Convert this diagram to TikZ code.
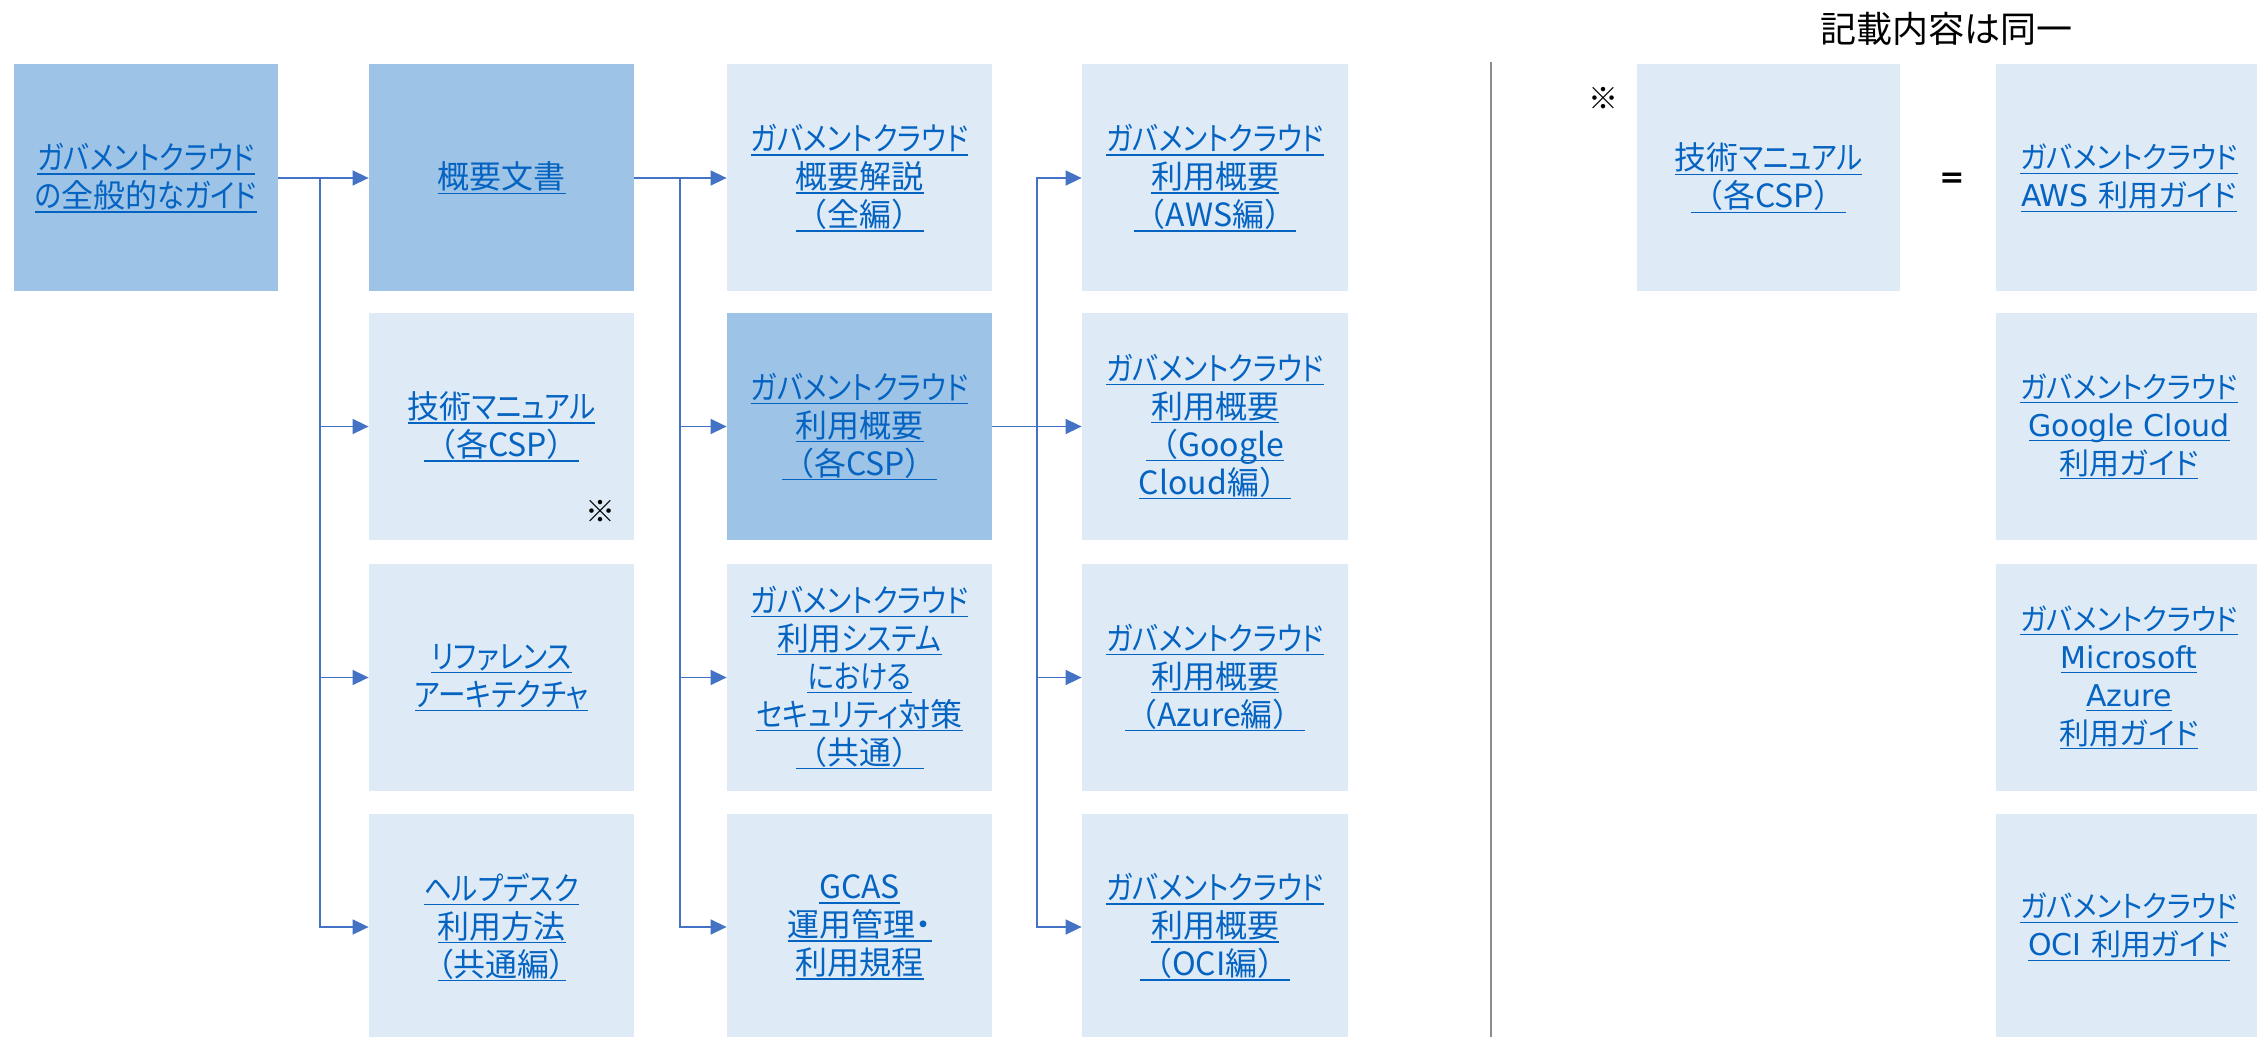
\documentclass[tikz,border=0pt]{standalone}
\usepackage{fontspec}
\usetikzlibrary{arrows.meta}
\newfontfamily\jp[RawFeature=+palt]{Noto Sans CJK JP}
\newfontfamily\jpk[RawFeature=+palt,FakeStretch=0.86]{Noto Sans CJK JP}
\newfontfamily\jpr[RawFeature=+palt,FakeStretch=0.92]{Noto Sans CJK JP}
\newfontfamily\jpw{Noto Sans CJK JP}
\newfontfamily\dv{DejaVu Sans}
\definecolor{darkfill}{HTML}{9DC3E6}
\definecolor{lightfill}{HTML}{DEEBF7}
\definecolor{linkblue}{HTML}{0563C1}
\definecolor{arrowblue}{HTML}{4472C4}
\definecolor{sepgray}{HTML}{8C8C8C}
\newcommand\ul[1]{\begingroup\setbox0=\hbox{#1}\rlap{\rule[-2.6pt]{\wd0}{0.7pt}}\box0\endgroup}
\newcommand\kana[1]{{\jpk #1}}
\newcommand\GC{\kana{ガバメントクラウド}}
\newcommand\GCr{{\jpr ガバメントクラウド}}
\newcommand\LPar{{\jpw （}}
\newcommand\RPar{{\jpw ）}}
\tikzset{
  box/.style={inner sep=0pt, minimum width=132.5pt, minimum height=113.5pt,
    align=center, text=linkblue, font=\jp\fontsize{16pt}{19pt}\selectfont},
  darkbox/.style={box, fill=darkfill},
  lightbox/.style={box, fill=lightfill},
  widebox/.style={lightbox, minimum width=133pt, font=\jp\fontsize{15pt}{19pt}\selectfont},
  link/.style={draw=arrowblue, line width=0.75pt, -{Triangle[length=8pt,width=7.5pt]}},
  plain/.style={inner sep=0pt, text=black, font=\jpw\fontsize{15pt}{18pt}\selectfont},
}
\begin{document}
\begin{tikzpicture}[x=0.5pt,y=-0.5pt]
\useasboundingbox (0,0) rectangle (2257,1037);
\clip (0,0) rectangle (2257,1037);
% column 1
\node[darkbox, minimum width=132pt] (b1) at (146,178) {\ul{\GC}\\\ul{\kana{の}全般的\kana{なガイド}}};
% column 2
\node[darkbox] (k1) at (501.5,178) {\ul{概要文書}};
\node[lightbox] (k2) at (501.5,426.5) {\ul{技術\kana{マニュアル}}\\\ul{\LPar 各CSP\RPar}};
\node[lightbox] (k3) at (501.5,677.5) {\ul{\kana{リファレンス}}\\\ul{\kana{アーキテクチャ}}};
\node[lightbox] (k4) at (501.5,927) {\ul{\kana{ヘルプデスク}}\\\ul{利用方法}\\\ul{（共通編）}};
% column 3
\node[lightbox] (u1) at (859.5,178) {\ul{\GC}\\\ul{概要解説}\\\ul{\LPar 全編\RPar}};
\node[darkbox] (u2) at (859.5,426.5) {\ul{\GC}\\\ul{利用概要}\\\ul{\LPar 各CSP\RPar}};
\node[lightbox] (u3) at (859.5,677.5) {\ul{\GC}\\\ul{利用\kana{システム}}\\\ul{\kana{における}}\\\ul{\kana{セキュリティ}対策}\\\ul{\LPar 共通\RPar}};
\node[lightbox] (u4) at (859.5,927) {\ul{GCAS}\\\ul{運用管理・}\\\ul{利用規程}};
% column 4
\node[lightbox, minimum width=133pt] (g1) at (1215,178) {\ul{\GC}\\\ul{利用概要}\\\ul{\LPar AWS編\RPar}};
\node[lightbox, minimum width=133pt] (g2) at (1215,426.5) {\ul{\GC}\\\ul{利用概要}\\\ul{\LPar Google}\\\ul{Cloud編\RPar}};
\node[lightbox, minimum width=133pt] (g3) at (1215,677.5) {\ul{\GC}\\\ul{利用概要}\\\ul{\LPar Azure編\RPar}};
\node[lightbox, minimum width=133pt] (g4) at (1215,927) {\ul{\GC}\\\ul{利用概要}\\\ul{\LPar OCI編\RPar}};
% right part
\node[lightbox, minimum width=131.5pt] (tm) at (1768.5,178) {\ul{技術\kana{マニュアル}}\\\ul{\LPar 各CSP\RPar}};
\node[widebox] (r1) at (2129,178) {\ul{\GCr}\\\ul{{\dv AWS }利用ガイド}};
\node[widebox] (r2) at (2129,426.5) {\ul{\GCr}\\\ul{\dv Google Cloud}\\\ul{利用ガイド}};
\node[widebox] (r3) at (2129,677.5) {\ul{\GCr}\\\ul{\dv Microsoft}\\\ul{\dv Azure}\\\ul{利用ガイド}};
\node[widebox] (r4) at (2129,927) {\ul{\GCr}\\\ul{{\dv OCI }利用ガイド}};
% labels
\node[plain] (n1) at (600,511) {※};
\node[plain] (n2) at (1603,98) {※};
\node[plain, font=\dv\bfseries\fontsize{15pt}{18pt}\selectfont] (eq) at (1952,180) {=};
\node[plain, font=\jpw\fontsize{18pt}{20pt}\selectfont] (title) at (1946,29) {記載内容は同一};
% separator
\coordinate (s1) at (1491,62);
\coordinate (s2) at (1491,1040);
\draw[sepgray, line width=0.6pt] (s1) -- (s2);
% connectors
\draw[link] (b1.east) -- (k1.west);
\coordinate (ta) at (320,178);
\draw[link] (ta) |- (k2.west);
\draw[link] (ta) |- (k3.west);
\draw[link] (ta) |- (k4.west);
\draw[link] (k1.east) -- (u1.west);
\coordinate (tb) at (680,178);
\draw[link] (tb) |- (u2.west);
\draw[link] (tb) |- (u3.west);
\draw[link] (tb) |- (u4.west);
\draw[link] (u2.east) -- (g2.west);
\coordinate (tc) at (1037,426.5);
\draw[link] (tc) |- (g1.west);
\draw[link] (tc) |- (g3.west);
\draw[link] (tc) |- (g4.west);
\end{tikzpicture}
\end{document}
